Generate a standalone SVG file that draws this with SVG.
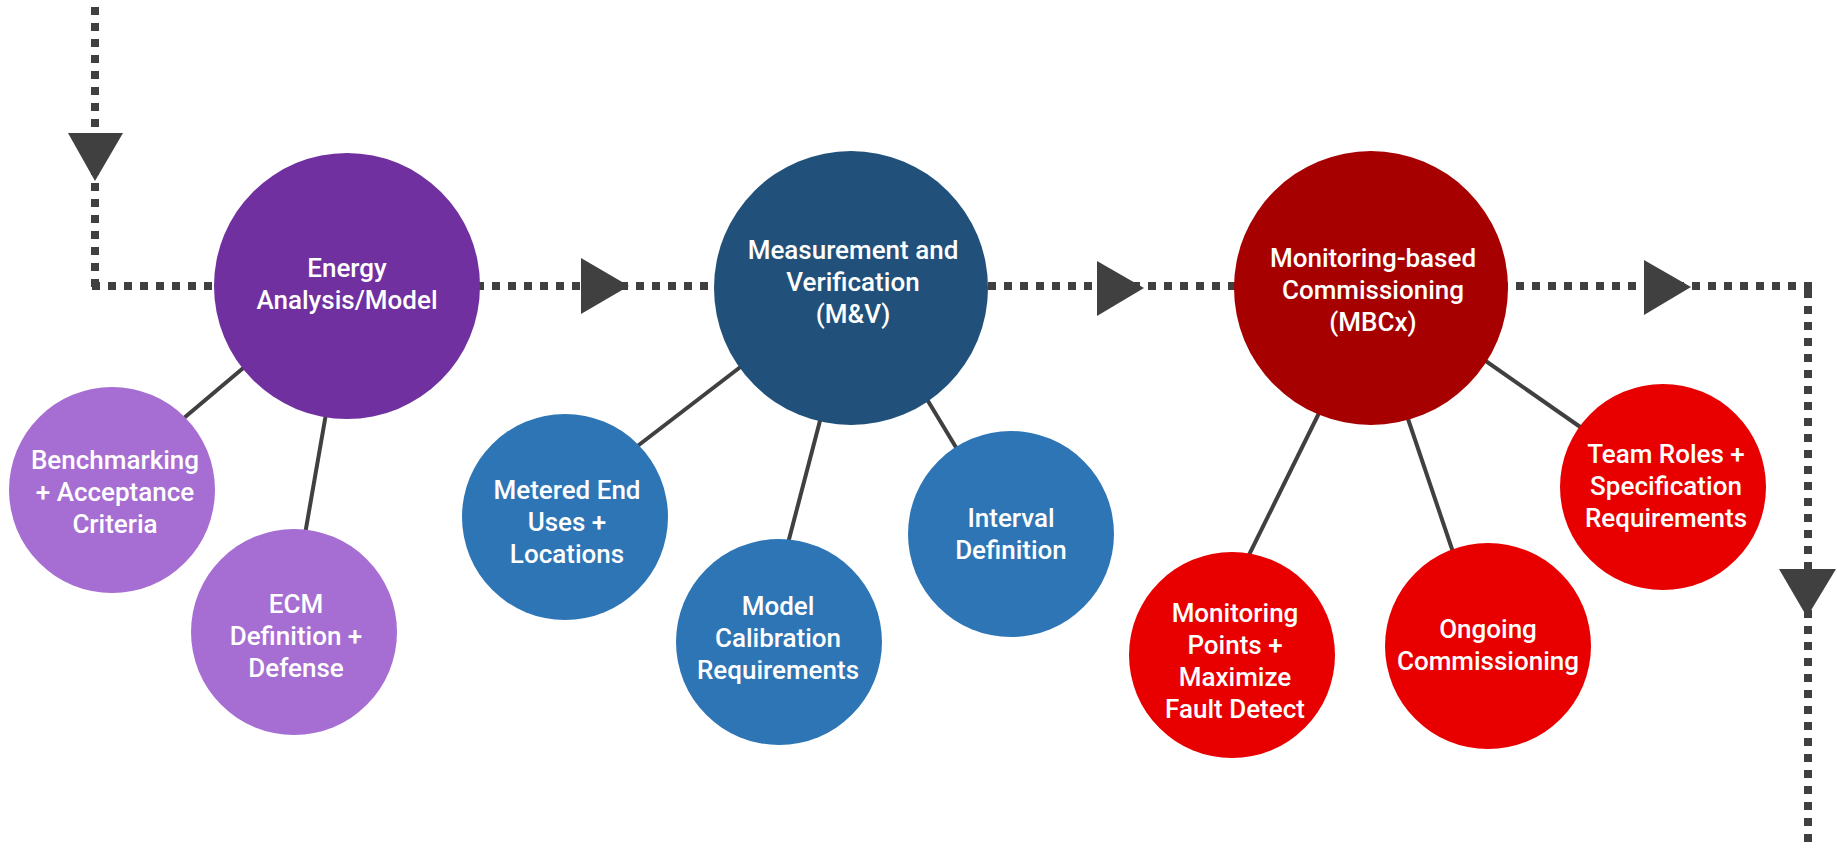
<svg xmlns="http://www.w3.org/2000/svg" width="1837" height="850" viewBox="0 0 1837 850">
<style>
.flow{fill:none;stroke:#404040;stroke-width:8;stroke-dasharray:8 8}
.conn{stroke:#404040;stroke-width:4;fill:none}
.arrow{fill:#404040}
.t{font-family:Roboto,"Liberation Sans",sans-serif;font-size:26px;font-weight:500;fill:#ffffff;text-anchor:middle}
.purple{fill:#7030A0}
.lpurple{fill:#A66ED2}
.dblue{fill:#21507A}
.blue{fill:#2E75B6}
.dred{fill:#A60000}
.red{fill:#E80000}
</style>
<rect width="1837" height="850" fill="#ffffff"/>
<g id="flow">
<line class="flow" x1="95" y1="7" x2="95" y2="290"/>
<line class="flow" x1="84" y1="286" x2="1813" y2="286" stroke-dashoffset="8"/>
<line class="flow" x1="1808" y1="290" x2="1808" y2="850"/>
<polygon class="arrow" points="68,133 123,133 95,181"/>
<polygon class="arrow" points="581,258 581,314 629,286"/>
<polygon class="arrow" points="1097,261 1097,316 1144,288"/>
<polygon class="arrow" points="1644,260 1644,315 1691,287"/>
<polygon class="arrow" points="1779,569 1836,569 1807,617"/>
</g>
<g id="connectors">
<line class="conn" x1="248" y1="364" x2="178" y2="423"/>
<line class="conn" x1="327" y1="408" x2="304" y2="540"/>
<line class="conn" x1="743" y1="365" x2="631" y2="451"/>
<line class="conn" x1="822" y1="413" x2="787" y2="547"/>
<line class="conn" x1="925" y1="396" x2="960" y2="454"/>
<line class="conn" x1="1480" y1="357" x2="1586" y2="431"/>
<line class="conn" x1="1322" y1="407" x2="1246" y2="561"/>
<line class="conn" x1="1406" y1="413" x2="1455" y2="558"/>
</g>
<g id="energy">
<circle class="purple" cx="347" cy="286" r="133"/>
<text class="t" x="347" y="277">Energy</text>
<text class="t" x="347" y="309">Analysis/Model</text>
</g>
<g id="benchmarking">
<circle class="lpurple" cx="112" cy="490" r="103"/>
<text class="t" x="115" y="469">Benchmarking</text>
<text class="t" x="115" y="501">+ Acceptance</text>
<text class="t" x="115" y="533">Criteria</text>
</g>
<g id="ecm">
<circle class="lpurple" cx="294" cy="632" r="103"/>
<text class="t" x="296" y="613">ECM</text>
<text class="t" x="296" y="645">Definition +</text>
<text class="t" x="296" y="677">Defense</text>
</g>
<g id="mv">
<circle class="dblue" cx="851" cy="288" r="137"/>
<text class="t" x="853" y="259">Measurement and</text>
<text class="t" x="853" y="291">Verification</text>
<text class="t" x="853" y="323">(M&amp;V)</text>
</g>
<g id="metered">
<circle class="blue" cx="565" cy="517" r="103"/>
<text class="t" x="567" y="499">Metered End</text>
<text class="t" x="567" y="531">Uses +</text>
<text class="t" x="567" y="563">Locations</text>
</g>
<g id="calibration">
<circle class="blue" cx="779" cy="642" r="103"/>
<text class="t" x="778" y="615">Model</text>
<text class="t" x="778" y="647">Calibration</text>
<text class="t" x="778" y="679">Requirements</text>
</g>
<g id="interval">
<circle class="blue" cx="1011" cy="534" r="103"/>
<text class="t" x="1011" y="527">Interval</text>
<text class="t" x="1011" y="559">Definition</text>
</g>
<g id="mbcx">
<circle class="dred" cx="1371" cy="288" r="137"/>
<text class="t" x="1373" y="267">Monitoring-based</text>
<text class="t" x="1373" y="299">Commissioning</text>
<text class="t" x="1373" y="331">(MBCx)</text>
</g>
<g id="team">
<circle class="red" cx="1663" cy="487" r="103"/>
<text class="t" x="1666" y="463">Team Roles +</text>
<text class="t" x="1666" y="495">Specification</text>
<text class="t" x="1666" y="527">Requirements</text>
</g>
<g id="monitoring">
<circle class="red" cx="1232" cy="655" r="103"/>
<text class="t" x="1235" y="622">Monitoring</text>
<text class="t" x="1235" y="654">Points +</text>
<text class="t" x="1235" y="686">Maximize</text>
<text class="t" x="1235" y="718">Fault Detect</text>
</g>
<g id="ongoing">
<circle class="red" cx="1488" cy="646" r="103"/>
<text class="t" x="1488" y="638">Ongoing</text>
<text class="t" x="1488" y="670">Commissioning</text>
</g>
</svg>
